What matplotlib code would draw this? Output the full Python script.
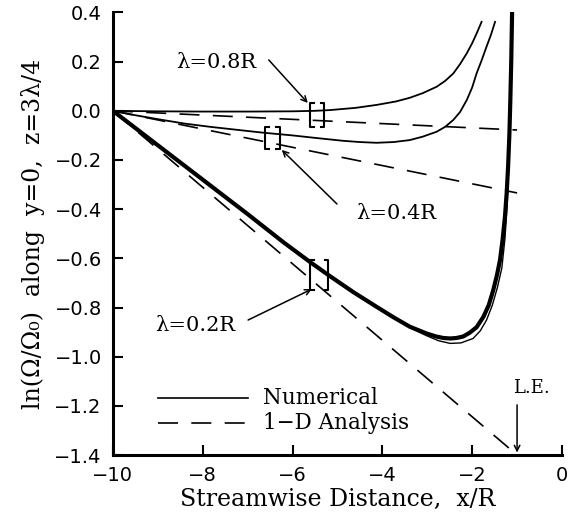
import matplotlib
matplotlib.use('Agg')
import matplotlib.pyplot as plt

# numerical solutions
x_08 = [-10, -9, -8, -7, -6, -5.5, -5.17, -4.6, -4.13, -3.7, -3.39, -3.1, -2.79, -2.6, -2.42,
        -2.27, -2.12, -2.0, -1.90, -1.79]
y_08 = [0, -0.002, -0.003, -0.003, -0.002, 0.0, 0.003, 0.012, 0.024, 0.038, 0.053, 0.072, 0.098,
        0.122, 0.152, 0.19, 0.234, 0.275, 0.315, 0.362]

x_04 = [-10, -9.5, -8.9, -8.4, -7.84, -7.2, -6.65, -6.0, -5.5, -4.87, -4.5, -4.13, -3.75, -3.39,
        -3.1, -2.79, -2.6, -2.42, -2.27, -2.12, -2.0, -1.90, -1.79, -1.68, -1.58, -1.49]
y_04 = [0, -0.018, -0.037, -0.052, -0.065, -0.078, -0.089, -0.100, -0.110, -0.122, -0.127, -0.130,
        -0.127, -0.119, -0.105, -0.085, -0.065, -0.037, -0.005, 0.044, 0.095, 0.153, 0.205, 0.261,
        0.31, 0.362]

x_02 = [-10, -9, -8, -7, -6.2, -5.61, -5.17, -4.65, -4.13, -3.75, -3.39, -3.01, -2.8, -2.64, -2.49,
        -2.35, -2.2, -2.05, -1.90, -1.75, -1.63, -1.53, -1.45, -1.38, -1.32, -1.27, -1.23, -1.2,
        -1.17, -1.15, -1.13, -1.11]
y_02 = [0, -0.14, -0.28, -0.42, -0.535, -0.615, -0.672, -0.737, -0.797, -0.84, -0.878, -0.906,
        -0.918, -0.924, -0.926, -0.924, -0.918, -0.902, -0.88, -0.838, -0.79, -0.729, -0.67, -0.607,
        -0.52, -0.431, -0.33, -0.227, -0.09, 0.044, 0.2, 0.41]

x_02t = [-10, -7, -5.61, -4.13, -3.39, -3.01, -2.75, -2.49, -2.25, -1.98, -1.82, -1.68, -1.55,
         -1.44, -1.34, -1.27, -1.22, -1.18, -1.15, -1.11]
y_02t = [0, -0.42, -0.615, -0.797, -0.882, -0.915, -0.935, -0.946, -0.944, -0.926, -0.895, -0.851,
         -0.79, -0.72, -0.64, -0.52, -0.38, -0.2, 0.044, 0.41]

# 1-D analysis, straight lines out to the leading edge
x_1d = [-10, -1]
y_1d_08 = [0, -0.078]
y_1d_04 = [0, -0.334]
y_1d_02 = [0, -1.4]

# bracket markers [ ] : left x, right x, top y, bottom y
br_left = [-5.60, -6.61, -5.61]
br_right = [-5.29, -6.28, -5.20]
br_top = [0.032, -0.065, -0.607]
br_bot = [-0.066, -0.157, -0.729]

xticks = [-10, -8, -6, -4, -2, 0]
yticks = [0.4, 0.2, 0.0, -0.2, -0.4, -0.6, -0.8, -1.0, -1.2, -1.4]

serif = 'DejaVu Serif'

fig = plt.figure(figsize=(5.82, 5.27), dpi=100)
ax = fig.add_axes([0.194, 0.1366, 0.7716, 0.8397])

ax.plot(x_08, y_08, c='k', lw=1.3)
ax.plot(x_04, y_04, c='k', lw=1.3)
ax.plot(x_02t, y_02t, c='k', lw=1.0)
ax.plot(x_02, y_02, c='k', lw=3.0)

for yy in [y_1d_08, y_1d_04, y_1d_02]:
    ax.plot(x_1d, yy, c='k', lw=1.2, dashes=(12, 8))

sw = 0.08
for xl, xr, yt, yb in zip(br_left, br_right, br_top, br_bot):
    ax.plot([xl + sw, xl, xl, xl + sw], [yt, yt, yb, yb], c='k', lw=1.5)
    ax.plot([xr - sw, xr, xr, xr - sw], [yt, yt, yb, yb], c='k', lw=1.5)

# legend drawn by hand
ax.plot([-9.0, -6.99], [-1.169, -1.169], c='k', lw=1.2)
ax.plot([-9.0, -6.99], [-1.27, -1.27], c='k', lw=1.2, dashes=(12, 8))
ax.text(-6.66, -1.169, 'Numerical', family=serif, fontsize=15.5, va='center')
ax.text(-6.66, -1.27, '1\u2212D Analysis', family=serif, fontsize=15.5, va='center')

# labels and arrows
ap = dict(arrowstyle='->', lw=1.1, color='k', shrinkA=0, shrinkB=0)
ax.text(-7.71, 0.198, '\u03bb=0.8R', family=serif, fontsize=15, ha='center', va='center')
ax.annotate('', xy=(-5.66, 0.032), xytext=(-6.53, 0.207), arrowprops=ap)
ax.text(-3.70, -0.416, '\u03bb=0.4R', family=serif, fontsize=15, ha='center', va='center')
ax.annotate('', xy=(-6.24, -0.159), xytext=(-5.01, -0.379), arrowprops=ap)
ax.text(-8.17, -0.872, '\u03bb=0.2R', family=serif, fontsize=15, ha='center', va='center')
ax.annotate('', xy=(-5.57, -0.725), xytext=(-6.99, -0.851), arrowprops=ap)
ax.text(-0.69, -1.127, 'L.E.', family=serif, fontsize=13, ha='center', va='center')
ax.annotate('', xy=(-1.0, -1.39), xytext=(-1.0, -1.196), arrowprops=ap)

ax.set_xlim(-10, 0)
ax.set_ylim(-1.4, 0.4)
ax.set_xticks(xticks)
ax.set_yticks(yticks)
ax.set_xticklabels(['\u221210', '\u22128', '\u22126', '\u22124', '\u22122', '0'])
ax.set_yticklabels(['%.1f' % v if v >= 0 else '\u2212%.1f' % -v for v in yticks])
ax.tick_params(direction='in', length=7, width=1.5, labelsize=14, pad=8)

ax.spines['top'].set_visible(False)
ax.spines['right'].set_visible(False)
ax.spines['left'].set_linewidth(2.2)
ax.spines['bottom'].set_linewidth(2.2)

ax.set_xlabel('Streamwise Distance,  x/R', family=serif, fontsize=17, labelpad=2)
ax.set_ylabel('ln(\u03a9/\u03a9\u2080)  along  y=0,  z=3\u03bb/4', family=serif, fontsize=17, labelpad=7)

plt.savefig('out.png', dpi=100)
